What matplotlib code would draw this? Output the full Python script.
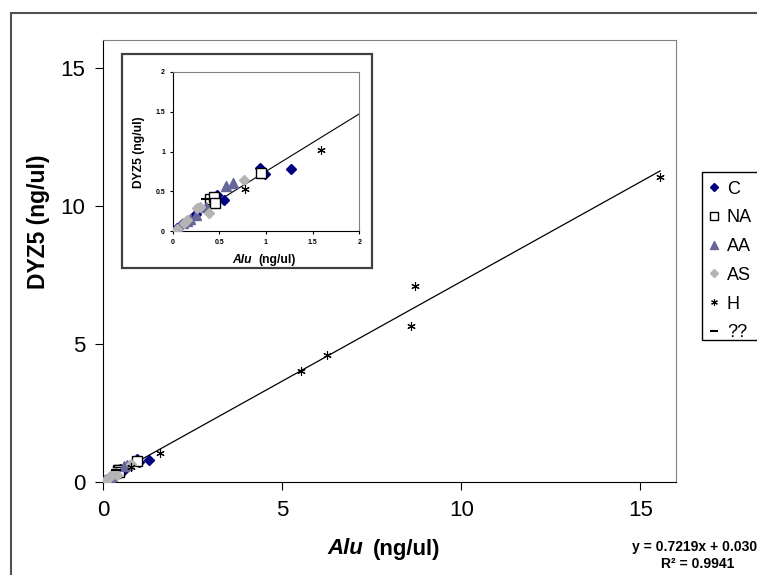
import matplotlib
matplotlib.use('Agg')
from matplotlib import pyplot as plt
from matplotlib import rcParams
from matplotlib.patches import Rectangle

# data (ng/ul)
c_x = [0.94, 0.99, 1.27, 0.55, 0.47, 0.44, 0.42, 0.25, 0.10, 0.05]
c_y = [0.80, 0.715, 0.78, 0.39, 0.45, 0.36, 0.38, 0.22, 0.09, 0.04]
na_x = [0.40, 0.44, 0.45, 0.95]
na_y = [0.40, 0.43, 0.35, 0.73]
aa_x = [0.57, 0.65, 0.36, 0.25, 0.19, 0.15, 0.11, 0.06, 0.04]
aa_y = [0.57, 0.61, 0.31, 0.21, 0.16, 0.13, 0.10, 0.04, 0.02]
as_x = [0.76, 0.39, 0.26, 0.29, 0.15, 0.05, 0.12]
as_y = [0.65, 0.23, 0.29, 0.31, 0.14, 0.03, 0.11]
h_x = [15.55, 8.69, 8.60, 6.26, 5.53, 1.59, 0.78]
h_y = [11.05, 7.10, 5.65, 4.57, 3.99, 1.02, 0.53]
q_x = [0.36]
q_y = [0.40]

slope = 0.7219
intercept = 0.0306
r2 = 0.9941

main_ticks = [0, 5, 10, 15]
inset_ticks = [0, 0.5, 1, 1.5, 2]

series = [
    ('C', c_x, c_y, dict(marker='D', color='#000080', mec='#000080', ms=5)),
    ('NA', na_x, na_y, dict(marker='s', color='white', mec='black', ms=7, mew=1)),
    ('AA', aa_x, aa_y, dict(marker='^', color='#666699', mec='#666699', ms=7)),
    ('AS', as_x, as_y, dict(marker='D', color='#b4b4b4', mec='#b4b4b4', ms=5)),
    ('H', h_x, h_y, dict(marker=(6, 2, 0), color='black', mec='black', ms=6, mew=0.8)),
    ('??', q_x, q_y, dict(marker='_', color='black', mec='black', ms=7, mew=1.5)),
]

rcParams['font.family'] = ['Liberation Sans', 'DejaVu Sans']
W, H = 757, 575
fig = plt.figure(figsize=(W / 100, H / 100), dpi=100)


def fx(px):
    return px / W


def fy(py):
    return 1 - py / H


# outer chart border
fig.add_artist(Rectangle((fx(11), -0.1), 1.2, fy(13) + 0.1, transform=fig.transFigure,
                         fill=False, edgecolor='#505050', lw=1.5, zorder=0))


def style(ax, size, pad, length):
    for s in ['top', 'right']:
        ax.spines[s].set_color('#808080')
    for s in ['left', 'bottom']:
        ax.spines[s].set_color('black')
    ax.tick_params(direction='out', length=length, width=0.8, pad=pad, labelsize=size)


all_x = c_x + na_x + aa_x + as_x + h_x + q_x
x_line = [0, max(all_x)]
y_line = [slope * v + intercept for v in x_line]

# main plot
ax = fig.add_axes([fx(103.3), fy(481.5), fx(676.3) - fx(103.3), fy(40) - fy(481.5)])
ax.plot(x_line, y_line, color='black', lw=0.9, zorder=2)
handles = []
for name, xs, ys, kw in series:
    h, = ax.plot(xs, ys, ls='none', label=name, zorder=3, **kw)
    handles.append(h)
ax.set_xlim(0, 16)
ax.set_ylim(0, 16)
ax.set_xticks(main_ticks)
ax.set_yticks(main_ticks)
style(ax, 16, 7, 6)
ax.set_ylabel('DYZ5 (ng/ul)', fontsize=16.5, fontweight='bold')
ax.yaxis.set_label_coords(-0.093, 0.588)
fig.text(fx(363), fy(549), 'Alu', fontsize=16, fontweight='bold', style='italic',
         ha='right', va='center')
fig.text(fx(373), fy(549), '(ng/ul)', fontsize=16, fontweight='bold',
         ha='left', va='center')

# inset
fig.add_artist(Rectangle((fx(122), fy(268)), fx(372) - fx(122), fy(54) - fy(268),
                         transform=fig.transFigure, facecolor='white',
                         edgecolor='#404040', lw=1.6, zorder=1))
ax2 = fig.add_axes([fx(172.7), fy(231.3), fx(359.3) - fx(172.7), fy(72) - fy(231.3)],
                   zorder=2)
ax2.plot([0, 2], [intercept, slope * 2 + intercept], color='black', lw=0.8, zorder=2)
for name, xs, ys, kw in series:
    ax2.plot(xs, ys, ls='none', zorder=3, **kw)
ax2.set_xlim(0, 2)
ax2.set_ylim(0, 2)
ax2.set_xticks(inset_ticks)
ax2.set_yticks(inset_ticks)
ax2.set_xticklabels(['0', '0.5', '1', '1.5', '2'])
ax2.set_yticklabels(['0', '0.5', '1', '1.5', '2'])
style(ax2, 5, 3, 2.5)
for lab in ax2.get_xticklabels() + ax2.get_yticklabels():
    lab.set_fontweight('bold')
ax2.set_ylabel('DYZ5 (ng/ul)', fontsize=8.7, fontweight='bold')
ax2.yaxis.set_label_coords((145 - 172.7) / 186.6, (231.3 - 152.5) / 159.3)
fig.text(fx(252), fy(260), 'Alu', fontsize=8.7, fontweight='bold', style='italic',
         ha='right', va='center', zorder=3)
fig.text(fx(258.5), fy(260), '(ng/ul)', fontsize=8.7, fontweight='bold',
         ha='left', va='center', zorder=3)

# legend, cut by the right edge like the original
fig.add_artist(Rectangle((fx(702), fy(340)), 0.2, fy(172) - fy(340),
                         transform=fig.transFigure, facecolor='white',
                         edgecolor='black', lw=1.0, zorder=1))
leg = fig.legend(handles=handles, loc='upper left', bbox_to_anchor=(fx(706), fy(180.6)),
                 fontsize=13, frameon=False,
                 handlelength=0.9, handletextpad=0.25, labelspacing=0.65,
                 borderpad=0, borderaxespad=0, markerscale=0.8)
leg.set_zorder(2)

# trendline equation
fig.text(fx(698), fy(547), 'y = %.4fx + %.4f' % (slope, intercept), fontsize=10,
         fontweight='bold', ha='center', va='center')
fig.text(fx(698), fy(564), 'R\u00b2 = %.4f' % r2, fontsize=10, fontweight='bold',
         ha='center', va='center')

fig.savefig('out.png', dpi=100)
